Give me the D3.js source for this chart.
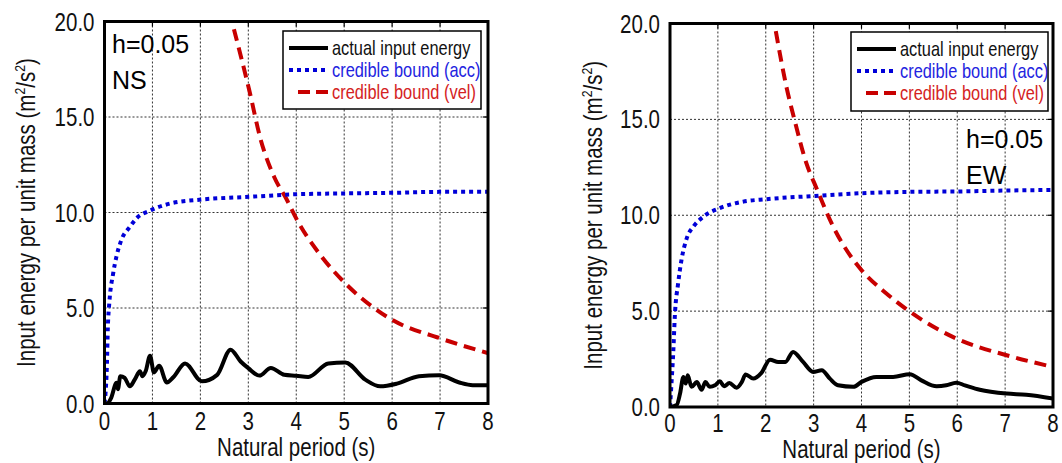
<!DOCTYPE html>
<html>
<head>
<meta charset="utf-8">
<script src="https://cdn.jsdelivr.net/npm/d3@7"></script>
<style>
  body { margin: 0; background: #fff; }
  text { font-family: "Liberation Sans", Arial, sans-serif; }
</style>
</head>
<body>
<svg id="chart" width="1062" height="463"></svg>
<script>
// axis ticks
const periodTicks = [0, 1, 2, 3, 4, 5, 6, 7, 8];
const energyTicks = [0, 5, 10, 15, 20];
const legendLabels = ["actual input energy", "credible bound (acc)", "credible bound (vel)"];

// NS component: [period (s), energy (m2/s2)]
const nsActual = [[0,0],[0.05,0],[0.14,0.3],[0.25,1.08],[0.28,0.75],[0.33,1.43],[0.42,1.34],[0.53,0.9],
  [0.63,1.25],[0.74,1.69],[0.79,1.43],[0.86,1.7],[0.95,2.5],[1.03,1.63],[1.14,1.98],[1.3,1.1],
  [1.44,1.39],[1.68,2.1],[2.03,1.16],[2.35,1.5],[2.63,2.82],[2.84,2.2],[3.0,1.85],[3.23,1.46],
  [3.47,1.86],[3.75,1.5],[4.0,1.45],[4.25,1.39],[4.67,2.1],[5.02,2.15],[5.44,1.25],[5.75,0.9],
  [6.1,1.04],[6.56,1.43],[6.98,1.48],[7.4,1.1],[7.68,0.96],[8.0,0.96]];
const nsAcc = [[0,0],[0.02,0.5],[0.05,2.0],[0.07,4.0],[0.1,5.25],[0.18,6.8],[0.25,7.7],[0.35,8.55],
  [0.53,9.25],[0.67,9.7],[0.95,10.1],[1.37,10.47],[2.03,10.68],[3.02,10.82],[4.04,10.96],
  [5.02,11.0],[6.0,11.03],[6.98,11.08],[8.0,11.08]];
const nsVel = [[2.7,19.6],[3.02,16.4],[3.26,13.8],[3.54,11.86],[3.79,10.73],[4.04,9.5],[4.53,7.69],
  [5.02,6.3],[5.58,5.08],[6.0,4.38],[6.98,3.43],[8.0,2.64]];

// EW component
const ewActual = [[0,0],[0.14,0.1],[0.21,0.7],[0.28,1.57],[0.33,1.22],[0.37,1.65],[0.45,1.05],[0.56,1.3],
  [0.66,0.9],[0.74,1.3],[0.83,1.05],[0.94,1.13],[1.04,1.34],[1.13,1.08],[1.24,1.25],[1.39,1.0],
  [1.5,1.3],[1.58,1.7],[1.74,1.48],[1.91,1.78],[2.09,2.47],[2.26,2.35],[2.41,2.35],[2.57,2.87],
  [2.78,2.35],[2.99,1.83],[3.17,1.92],[3.34,1.48],[3.51,1.13],[3.83,1.05],[4.0,1.31],[4.31,1.57],
  [4.66,1.57],[5.01,1.71],[5.25,1.39],[5.57,1.08],[5.77,1.13],[5.98,1.27],[6.16,1.13],[6.47,0.9],
  [7.03,0.7],[7.44,0.64],[8.0,0.44]];
const ewAcc = [[0,0],[0.03,1.2],[0.07,2.96],[0.1,4.7],[0.17,6.45],[0.24,7.67],[0.35,8.8],[0.49,9.41],
  [0.7,9.93],[1.04,10.37],[1.53,10.71],[2.02,10.84],[3.03,11.01],[4.0,11.15],[5.01,11.22],
  [5.98,11.24],[7.03,11.29],[8.0,11.32]];
const ewVel = [[2.21,19.6],[2.43,16.72],[2.6,14.98],[2.85,12.7],[3.06,11.41],[3.41,9.4],[3.83,7.67],
  [4.0,7.14],[4.52,5.92],[5.01,4.97],[5.98,3.57],[7.03,2.7],[8.0,2.09]];

const svg = d3.select("#chart");
const NARROW = 0.82; // condensed look of the original typeface

const styles = [
  { color: "#000", dash: null, width: 4, text: "#111" },
  { color: "#0000d8", dash: "4,4", width: 4, text: "#2323e0" },
  { color: "#c80000", dash: "12,7", width: 4, text: "#d42222" }
];

function place(x, y, rot) {
  return "translate(" + x + "," + y + ")" + (rot ? " rotate(" + rot + ")" : "") + " scale(" + NARROW + ",1)";
}

function drawPanel(p) {
  const x = d3.scaleLinear().domain([0, 8]).range([p.left, p.right]);
  const y = d3.scaleLinear().domain([0, 20]).range([p.bottom, p.top]);
  const g = svg.append("g");

  // grid
  g.selectAll(".vgrid").data(periodTicks.slice(1, -1)).enter().append("line")
    .attr("x1", d => x(d)).attr("x2", d => x(d))
    .attr("y1", p.top).attr("y2", p.bottom)
    .attr("stroke", "#333").attr("stroke-width", 1).attr("stroke-dasharray", "2,2");
  g.selectAll(".hgrid").data(energyTicks.slice(1, -1)).enter().append("line")
    .attr("x1", p.left).attr("x2", p.right)
    .attr("y1", d => y(d)).attr("y2", d => y(d))
    .attr("stroke", "#333").attr("stroke-width", 1).attr("stroke-dasharray", "2,2");

  // small inward ticks on top / right edges
  g.selectAll(".ttick").data(periodTicks.slice(1, -1)).enter().append("line")
    .attr("x1", d => x(d)).attr("x2", d => x(d))
    .attr("y1", p.top).attr("y2", p.top + 5)
    .attr("stroke", "#000").attr("stroke-width", 1.2);
  g.selectAll(".rtick").data(energyTicks.slice(1, -1)).enter().append("line")
    .attr("x1", p.right - 5).attr("x2", p.right)
    .attr("y1", d => y(d)).attr("y2", d => y(d))
    .attr("stroke", "#000").attr("stroke-width", 1.2);

  // curves
  const clipId = "clip" + p.id;
  svg.append("clipPath").attr("id", clipId).append("rect")
    .attr("x", p.left).attr("y", p.top).attr("width", p.right - p.left).attr("height", p.bottom - p.top);

  const line = d3.line().x(d => x(d[0])).y(d => y(d[1])).curve(d3.curveMonotoneX);
  const series = [p.actual, p.acc, p.vel];
  [2, 1, 0].forEach(i => {
    g.append("path").datum(series[i])
      .attr("clip-path", "url(#" + clipId + ")")
      .attr("d", line)
      .attr("fill", "none")
      .attr("stroke", styles[i].color)
      .attr("stroke-width", styles[i].width)
      .attr("stroke-dasharray", styles[i].dash)
      .attr("stroke-linejoin", "round");
  });

  // frame
  g.append("rect")
    .attr("x", p.left).attr("y", p.top)
    .attr("width", p.right - p.left).attr("height", p.bottom - p.top)
    .attr("fill", "none").attr("stroke", "#000").attr("stroke-width", 3);

  // tick labels
  g.selectAll(".xl").data(periodTicks).enter().append("text")
    .attr("transform", d => place(x(d), p.tickY))
    .attr("text-anchor", "middle").attr("font-size", 25).attr("fill", "#111")
    .text(d => d);
  g.selectAll(".yl").data(energyTicks).enter().append("text")
    .attr("transform", d => place(p.left - 10, y(d) + 9))
    .attr("text-anchor", "end").attr("font-size", 25).attr("fill", "#111")
    .text(d => d3.format(".1f")(d));

  // axis titles
  g.append("text")
    .attr("transform", place((p.left + p.right) / 2, p.titleY))
    .attr("text-anchor", "middle").attr("font-size", 25).attr("fill", "#111")
    .text("Natural period (s)");
  const yt = g.append("text")
    .attr("transform", place(p.titleX, (p.top + p.bottom) / 2, -90))
    .attr("text-anchor", "middle").attr("font-size", 25).attr("fill", "#111");
  yt.append("tspan").text("Input energy per unit mass (m");
  yt.append("tspan").attr("font-size", 15).attr("dy", -10).text("2");
  yt.append("tspan").attr("dy", 10).text("/s");
  yt.append("tspan").attr("font-size", 15).attr("dy", -10).text("2");
  yt.append("tspan").attr("dy", 10).text(")");

  // damping / direction labels
  g.append("text").attr("x", p.hx).attr("y", p.hy)
    .attr("font-size", 25).attr("fill", "#000").text("h=0.05");
  g.append("text").attr("x", p.hx).attr("y", p.hy + 36)
    .attr("font-size", 25).attr("fill", "#000").text(p.dir);

  // legend
  const L = p.legend;
  g.append("rect").attr("x", L.x).attr("y", L.y).attr("width", L.w).attr("height", L.h)
    .attr("fill", "#fff").attr("stroke", "#000").attr("stroke-width", 1.5);
  legendLabels.forEach((lab, i) => {
    const by = L.y + 24 + i * 22;
    g.append("line")
      .attr("x1", L.x + (i === 2 ? 15 : 6)).attr("x2", L.x + 45)
      .attr("y1", by - 7).attr("y2", by - 7)
      .attr("stroke", styles[i].color).attr("stroke-width", 4)
      .attr("stroke-dasharray", i === 2 ? "12,6" : styles[i].dash);
    g.append("text").attr("transform", place(L.x + 49, by))
      .attr("font-size", 20).attr("fill", styles[i].text).text(lab);
  });
}

drawPanel({
  id: "ns", left: 104.5, right: 488, top: 21.5, bottom: 403.5, titleX: 35,
  tickY: 429.5, titleY: 456,
  actual: nsActual, acc: nsAcc, vel: nsVel,
  hx: 112, hy: 53, dir: "NS",
  legend: { x: 283, y: 31, w: 198, h: 78 }
});
drawPanel({
  id: "ew", left: 670, right: 1053, top: 23.5, bottom: 407, titleX: 602,
  tickY: 431.5, titleY: 457.5,
  actual: ewActual, acc: ewAcc, vel: ewVel,
  hx: 966, hy: 148, dir: "EW",
  legend: { x: 851, y: 32, w: 197, h: 79 }
});
</script>
</body>
</html>
